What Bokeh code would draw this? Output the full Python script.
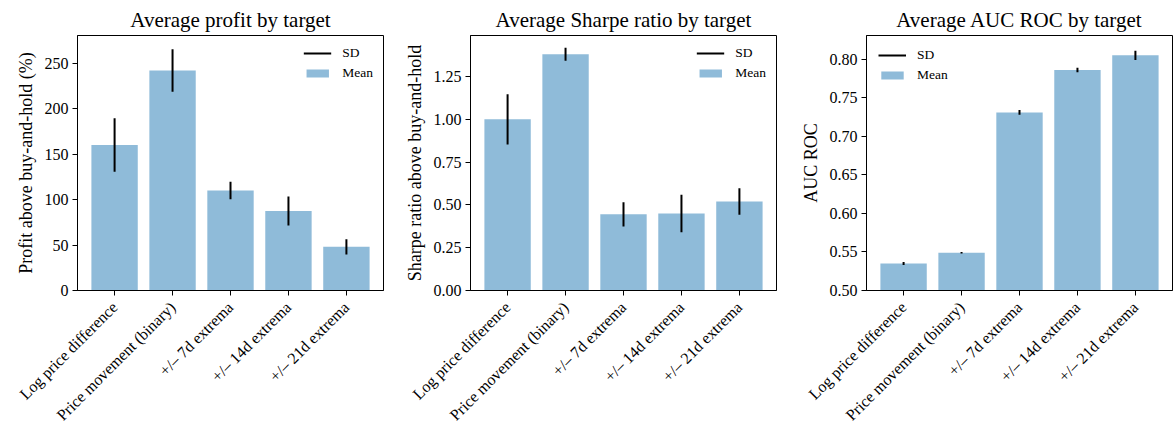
import math
from bokeh.plotting import figure
from bokeh.models import Range1d, FixedTicker, NumeralTickFormatter, Legend, LegendItem
from bokeh.layouts import row
from bokeh.embed import file_html
from bokeh.resources import INLINE

categories = ["Log price difference", "Price movement (binary)",
              "+/\u2013 7d extrema", "+/\u2013 14d extrema", "+/\u2013 21d extrema"]

profit_mean = [160, 242, 110, 87.5, 48]
profit_sd = [29.5, 23.5, 9.5, 16, 8.5]
sharpe_mean = [1.00, 1.38, 0.445, 0.45, 0.52]
sharpe_sd = [0.147, 0.038, 0.071, 0.11, 0.078]
auc_mean = [0.535, 0.549, 0.731, 0.786, 0.805]
auc_sd = [0.002, 0.001, 0.003, 0.003, 0.006]

titles = ["Average profit by target", "Average Sharpe ratio by target", "Average AUC ROC by target"]
ylabels = ["Profit above buy-and-hold (%)", "Sharpe ratio above buy-and-hold", "AUC ROC"]
profit_ticks = [0, 50, 100, 150, 200, 250]
sharpe_ticks = [0, 0.25, 0.5, 0.75, 1.0, 1.25]
auc_ticks = [0.5, 0.55, 0.6, 0.65, 0.7, 0.75, 0.8]

FONT = "Liberation Serif"
BAR = "#1f77b4"


def make_panel(title, ylabel, means, sds, yrange, ticks, fmt, legend_loc,
               border_left, border_right):
    idx = list(range(len(categories)))
    p = figure(output_backend="svg", toolbar_location=None,
               frame_width=306, frame_height=255,
               min_border_left=border_left, min_border_right=border_right,
               min_border_top=35, min_border_bottom=138,
               x_range=Range1d(-0.64, len(categories) - 1 + 0.64),
               y_range=Range1d(*yrange), title=title)
    p.title.text_font = FONT
    p.title.text_font_size = "21px"
    p.title.text_font_style = "normal"
    p.title.text_color = "black"
    p.title.align = "center"
    p.title.standoff = 8

    p.xgrid.visible = False
    p.ygrid.visible = False
    p.outline_line_color = "black"
    p.outline_line_width = 1
    p.outline_line_alpha = 1

    bottoms = [0] * len(means)
    bars = p.vbar(x=idx, top=means, bottom=bottoms, width=0.8,
                  fill_color=BAR, fill_alpha=0.5, line_color=None)
    lo = [m - s for m, s in zip(means, sds)]
    hi = [m + s for m, s in zip(means, sds)]
    seg = p.segment(x0=idx, x1=idx, y0=lo, y1=hi, line_color="black", line_width=2)

    legend = Legend(items=[LegendItem(label="SD", renderers=[seg]),
                           LegendItem(label="Mean", renderers=[bars])],
                    location=legend_loc)
    legend.label_text_font = FONT
    legend.label_text_font_size = "13.5px"
    legend.label_text_color = "black"
    legend.glyph_width = 28
    legend.glyph_height = 10
    legend.label_standoff = 11
    legend.spacing = 4
    legend.padding = 5
    legend.margin = 5 if legend_loc == "top_right" else 7
    legend.border_line_alpha = 0
    legend.background_fill_alpha = 0
    p.add_layout(legend)

    for ax in (p.xaxis, p.yaxis):
        ax.axis_line_color = "black"
        ax.major_tick_line_color = "black"
        ax.major_tick_out = 5
        ax.major_tick_in = 0
        ax.minor_tick_line_color = None
        ax.major_label_text_font = FONT
        ax.major_label_text_color = "black"
        ax.major_label_standoff = 4

    p.xaxis.ticker = FixedTicker(ticks=idx)
    p.xaxis.major_label_overrides = {i: c for i, c in zip(idx, categories)}
    p.xaxis.major_label_orientation = math.pi / 4
    p.xaxis.major_label_text_font_size = "16px"
    p.xaxis.major_label_standoff = 9

    p.yaxis.ticker = FixedTicker(ticks=ticks)
    p.yaxis.formatter = NumeralTickFormatter(format=fmt)
    p.yaxis.major_label_text_font_size = "16px"
    p.yaxis.axis_label = ylabel
    p.yaxis.axis_label_text_font = FONT
    p.yaxis.axis_label_text_font_size = "18px"
    p.yaxis.axis_label_text_font_style = "normal"
    p.yaxis.axis_label_text_color = "black"
    p.yaxis.axis_label_standoff = 6
    return p


p1 = make_panel(titles[0], ylabels[0], profit_mean, profit_sd, (0, 280.5),
                profit_ticks, "0", "top_right", 77, 10)
p2 = make_panel(titles[1], ylabels[1], sharpe_mean, sharpe_sd, (0, 1.49),
                sharpe_ticks, "0.00", "top_right", 77, 10)
p3 = make_panel(titles[2], ylabels[2], auc_mean, auc_sd, (0.5, 0.8307),
                auc_ticks, "0.00", "top_left", 80, 4)

layout = row(p1, p2, p3)
open("out.html", "w").write(file_html(layout, INLINE))
